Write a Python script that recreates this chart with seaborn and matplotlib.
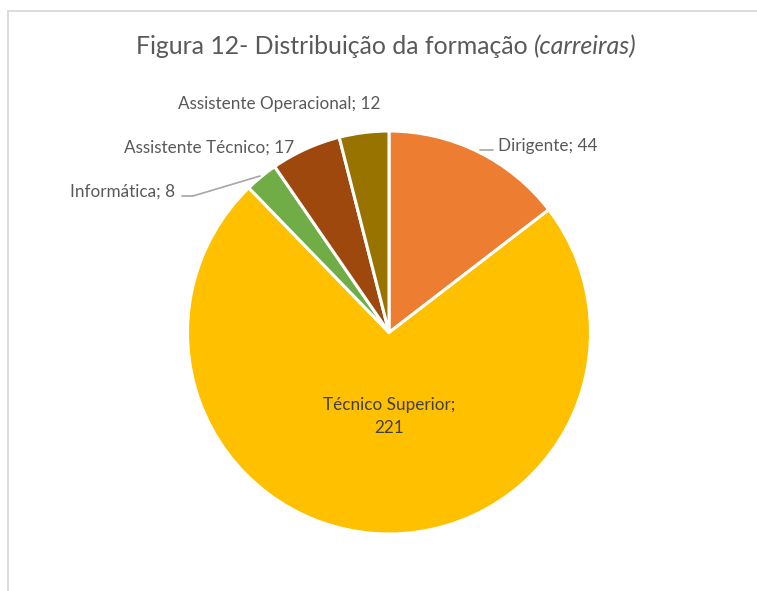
import matplotlib
matplotlib.use("Agg")
import matplotlib.pyplot as plt
import seaborn as sns
from matplotlib.lines import Line2D

# ---- data ----
categories = ["Dirigente", "Técnico Superior", "Informática",
              "Assistente Técnico", "Assistente Operacional"]
values = [44, 221, 8, 17, 12]
colors = ["#ED7D31", "#FFC000", "#70AD47", "#9E480E", "#997300"]
title_main = "Figura 12- Distribuição da formação "
title_italic = "(carreiras)"

sns.set_theme(style="white")
plt.rcParams['font.family'] = ['Lato', 'DejaVu Sans']

W, H = 757, 591
fig = plt.figure(figsize=(W / 100, H / 100), dpi=100)
fig.patch.set_facecolor("white")

cx, cy, r = 389, 332.5, 201.5
ax = fig.add_axes([(cx - r) / W, (H - cy - r) / H, 2 * r / W, 2 * r / H])
palette = sns.color_palette(colors)
wedges, _ = ax.pie(values, colors=palette, startangle=90, counterclock=False,
                   radius=1, center=(0, 0),
                   wedgeprops=dict(edgecolor="white", linewidth=2.2,
                                   joinstyle="miter"))
ax.set_xlim(-1, 1)
ax.set_ylim(-1, 1)
ax.set_aspect("auto")
ax.axis("off")


def fp(x, y):
    return (x / W, 1 - y / H)


# frame
fig.add_artist(Line2D([fp(8, 0)[0], fp(8, 0)[0]], [fp(0, 10.5)[1], 0],
                      transform=fig.transFigure, color="#D9D9D9", lw=1.3))
fig.add_artist(Line2D([fp(8, 0)[0], 1], [fp(0, 10.5)[1], fp(0, 10.5)[1]],
                      transform=fig.transFigure, color="#D9D9D9", lw=1.3))

label_color = "#595959"
inner_color = "#404040"

fig.canvas.draw()
renderer = fig.canvas.get_renderer()

# label font size fit
probe = fig.text(0, 0, f"{categories[4]}; {values[4]}", fontsize=10)
bw = probe.get_window_extent(renderer).width
lfs = 10 * 202 / bw
probe.remove()

lab = {c: v for c, v in zip(categories, values)}

fig.text(*fp(498, 145.5), f"Dirigente; {lab['Dirigente']}", fontsize=lfs,
         color=label_color, ha="left", va="center")
fig.text(*fp(380, 104.5), f"Assistente Operacional; {lab['Assistente Operacional']}",
         fontsize=lfs, color=label_color, ha="right", va="center")
fig.text(*fp(294, 147.5), f"Assistente Técnico; {lab['Assistente Técnico']}",
         fontsize=lfs, color=label_color, ha="right", va="center")
fig.text(*fp(175, 191.5), f"Informática; {lab['Informática']}",
         fontsize=lfs, color=label_color, ha="right", va="center")
fig.text(*fp(389, 405), "Técnico Superior;", fontsize=lfs,
         color=inner_color, ha="center", va="center")
fig.text(*fp(389, 428), f"{lab['Técnico Superior']}", fontsize=lfs,
         color=inner_color, ha="center", va="center")

# leader lines
lx = [480, 493]
ly = [150, 150]
fig.add_artist(Line2D([fp(x, 0)[0] for x in lx], [fp(0, y)[1] for y in ly],
                      transform=fig.transFigure, color="#A6A6A6", lw=1.2))
lx = [182, 193, 260]
ly = [196, 196, 176]
fig.add_artist(Line2D([fp(x, 0)[0] for x in lx], [fp(0, y)[1] for y in ly],
                      transform=fig.transFigure, color="#A6A6A6", lw=1.2))

# title (normal + italic), fitted to width
t1 = fig.text(0, 0, title_main, fontsize=14, color=label_color)
t2 = fig.text(0, 0, title_italic, fontsize=14, color=label_color, style="italic")
w1 = t1.get_window_extent(renderer).width
w2 = t2.get_window_extent(renderer).width
tfs = 14 * 505 / (w1 + w2)
t1.set_fontsize(tfs)
t2.set_fontsize(tfs)
w1 = t1.get_window_extent(renderer).width
w2 = t2.get_window_extent(renderer).width
x0 = 136
t1.set_position(fp(x0, 47))
t1.set_va("center")
t2.set_position(fp(x0 + w1, 47))
t2.set_va("center")

fig.savefig("out.png", dpi=100, facecolor="white")
